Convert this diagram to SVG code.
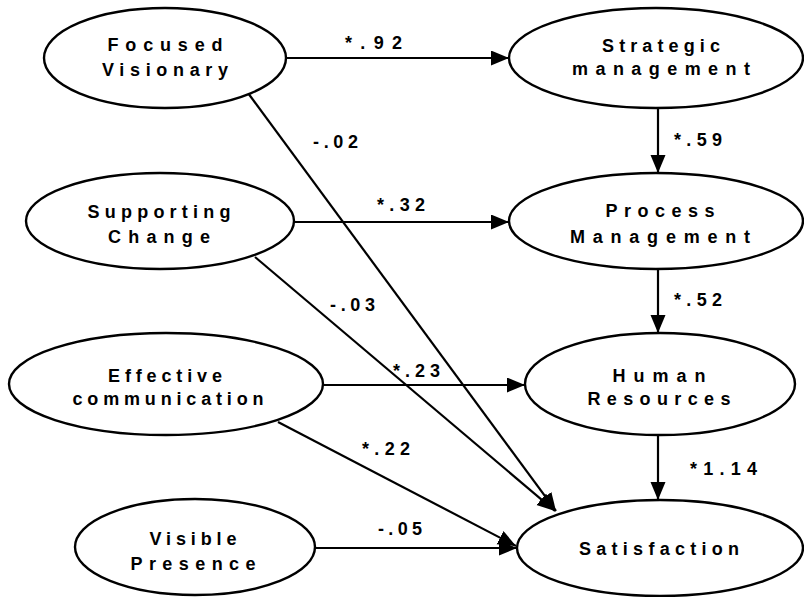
<svg xmlns="http://www.w3.org/2000/svg" width="804" height="597" viewBox="0 0 804 597">
  <style>
    .node ellipse { fill: #ffffff; stroke: #000000; stroke-width: 2.4; }
    .node text { font-family: "Liberation Sans", Arial, sans-serif; font-size: 18px; font-weight: bold; fill: #000000; text-anchor: middle; }
    .edges line { stroke: #000000; stroke-width: 2.2; marker-end: url(#arrow); }
    .coef { font-family: "Liberation Sans", Arial, sans-serif; font-size: 18px; font-weight: bold; fill: #000000; }
  </style>
  <defs>
    <marker id="arrow" markerUnits="userSpaceOnUse" markerWidth="19" markerHeight="16" refX="18" refY="7.5" orient="auto">
      <path d="M0,0 L18,7.5 L0,15 Z" fill="#000000"/>
    </marker>
  </defs>
  <rect width="804" height="597" fill="#ffffff"/>

  <!-- path connectors -->
  <g id="connectors" class="edges">
    <line x1="287" y1="58" x2="509" y2="58"/>
    <line x1="295" y1="222" x2="509" y2="222"/>
    <line x1="658" y1="108" x2="658" y2="173"/>
    <line x1="658" y1="269" x2="658" y2="333"/>
    <line x1="323" y1="385" x2="525" y2="385"/>
    <line x1="658" y1="435" x2="658" y2="500"/>
    <line x1="315" y1="548" x2="517" y2="548"/>
    <line x1="248" y1="93" x2="556" y2="511"/>
    <line x1="255" y1="257" x2="555" y2="511"/>
    <line x1="278" y1="422" x2="516" y2="546"/>
  </g>

  <!-- path coefficients -->
  <g id="coefficients">
    <text class="coef" x="345" y="49" textLength="57" lengthAdjust="spacing">*.92</text>
    <text class="coef" x="313" y="148" textLength="45" lengthAdjust="spacing">-.02</text>
    <text class="coef" x="377" y="211" textLength="48" lengthAdjust="spacing">*.32</text>
    <text class="coef" x="674" y="146" textLength="48" lengthAdjust="spacing">*.59</text>
    <text class="coef" x="330" y="311" textLength="45" lengthAdjust="spacing">-.03</text>
    <text class="coef" x="674" y="306" textLength="48" lengthAdjust="spacing">*.52</text>
    <text class="coef" x="393" y="377" textLength="47" lengthAdjust="spacing">*.23</text>
    <text class="coef" x="362" y="455" textLength="48" lengthAdjust="spacing">*.22</text>
    <text class="coef" x="378" y="535" textLength="44" lengthAdjust="spacing">-.05</text>
    <text class="coef" x="690" y="475" textLength="67" lengthAdjust="spacing">*1.14</text>
  </g>

  <g id="focused-visionary" class="node">
    <ellipse cx="165" cy="58" rx="121" ry="50"/>
    <text x="165" y="51" textLength="115" lengthAdjust="spacing">Focused</text>
    <text x="165" y="76" textLength="126" lengthAdjust="spacing">Visionary</text>
  </g>
  <g id="supporting-change" class="node">
    <ellipse cx="160" cy="221" rx="134" ry="48"/>
    <text x="159" y="218" textLength="143" lengthAdjust="spacing">Supporting</text>
    <text x="159" y="243" textLength="102" lengthAdjust="spacing">Change</text>
  </g>
  <g id="effective-communication" class="node">
    <ellipse cx="166" cy="384" rx="157" ry="51"/>
    <text x="165" y="382" textLength="114" lengthAdjust="spacing">Effective</text>
    <text x="168" y="405" textLength="191" lengthAdjust="spacing">communication</text>
  </g>
  <g id="visible-presence" class="node">
    <ellipse cx="195" cy="547" rx="120" ry="48"/>
    <text x="193" y="545" textLength="87" lengthAdjust="spacing">Visible</text>
    <text x="193" y="570" textLength="125" lengthAdjust="spacing">Presence</text>
  </g>
  <g id="strategic-management" class="node">
    <ellipse cx="656" cy="58" rx="147" ry="50"/>
    <text x="661" y="52" textLength="118" lengthAdjust="spacing">Strategic</text>
    <text x="661" y="75" textLength="178" lengthAdjust="spacing">management</text>
  </g>
  <g id="process-management" class="node">
    <ellipse cx="656" cy="221" rx="147" ry="48"/>
    <text x="660" y="217" textLength="109" lengthAdjust="spacing">Process</text>
    <text x="660" y="243" textLength="180" lengthAdjust="spacing">Management</text>
  </g>
  <g id="human-resources" class="node">
    <ellipse cx="660" cy="384" rx="135" ry="51"/>
    <text x="659" y="382" textLength="93" lengthAdjust="spacing">Human</text>
    <text x="659" y="405" textLength="143" lengthAdjust="spacing">Resources</text>
  </g>
  <g id="satisfaction" class="node">
    <ellipse cx="660" cy="548" rx="143" ry="48"/>
    <text x="659" y="555" textLength="160" lengthAdjust="spacing">Satisfaction</text>
  </g>
</svg>
